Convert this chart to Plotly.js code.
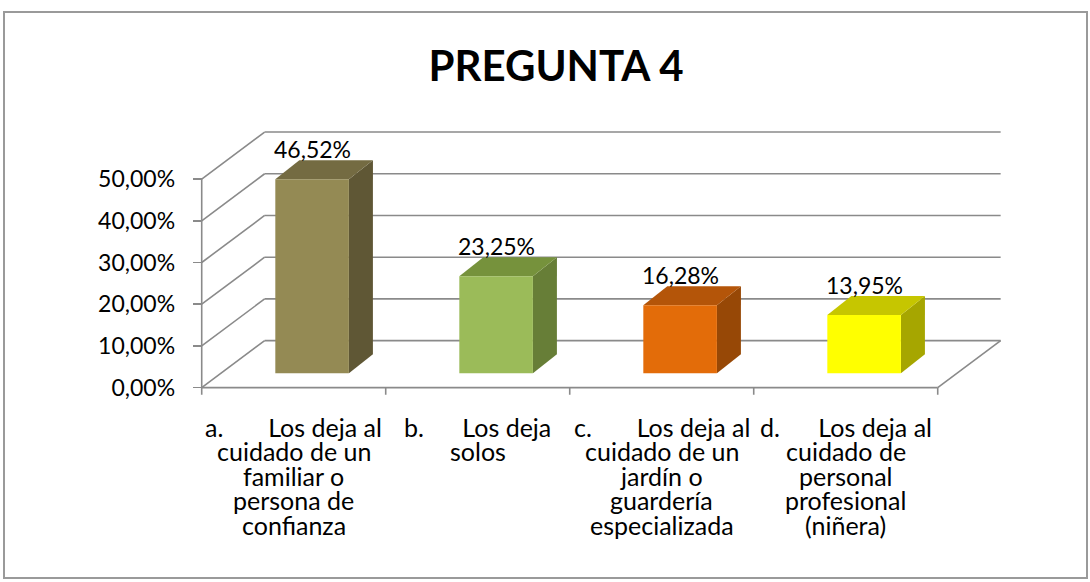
<!DOCTYPE html>
<html>
<head>
<meta charset="utf-8">
<script src="https://cdn.plot.ly/plotly-3.0.1.min.js"></script>
<style>html,body{margin:0;padding:0;background:#fff;}</style>
</head>
<body>
<div id="chart" style="width:1090px;height:582px;"></div>
<script>
// ---------- data ----------
const titleText = "PREGUNTA 4";
const categories = [
  "a.       Los deja al|cuidado de un|familiar o|persona de|confianza",
  "b.      Los deja|solos",
  "c.       Los deja al|cuidado de un|jardín o|guardería|especializada",
  "d.      Los deja al|cuidado de|personal|profesional|(niñera)"
];
const values = [46.52, 23.25, 16.28, 13.95];
const yTicks = [0, 10, 20, 30, 40, 50];
const yTickText = ["0,00%", "10,00%", "20,00%", "30,00%", "40,00%", "50,00%"];
const frontColors = ["#948A54", "#9BBB59", "#E36C09", "#FFFF00"];
const sideColors  = ["#5F5735", "#677E37", "#974806", "#A6A600"];
const topColors   = ["#746B42", "#76923C", "#B45509", "#C6C600"];

// ---------- geometry / style ----------
const W = 1090, H = 582;
const M = {l: 180, r: 60, t: 129, b: 186};
const XR = [-0.618, 4.0015];
const YR = [-2, 62];
const DX = 0.342, DY = 11.27;      // floor / wall depth
const BDX = 0.1304, BDY = 4.56;    // bar depth
const BASE = 3.45;                 // bar front base height
const BW = 0.4, SHIFT = 0.1;       // bar width & shift
const GRID = "#8a8a8a", GW = 1.6;
const FONT = "Lato, 'Open Sans', sans-serif";

const xs = categories.map((_, i) => i);
const pw = W - M.l - M.r, ph = H - M.t - M.b;
const px2paperX = p => (p - M.l) / pw;
const px2paperY = p => 1 - (p - M.t) / ph;

const shapes = [];
const line = (x0, y0, x1, y1) => shapes.push({type: "line", xref: "x", yref: "y", x0, y0, x1, y1,
  line: {color: GRID, width: GW}, layer: "below"});

const xL = -0.5, xRt = categories.length - 0.5;
// back wall gridlines and diagonals
yTicks.forEach(v => {
  line(xL + DX, v + DY, xRt + DX, v + DY);
  line(xL, v, xL + DX, v + DY);
});
// front axis and floor
line(xL, 0, xL, yTicks[yTicks.length - 1]);
line(xL, 0, xRt, 0);
line(xRt, 0, xRt + DX, DY);
// category boundary ticks
for (let i = 0; i <= categories.length; i++) line(xL + i, 0, xL + i, -1.7);

// bar sides and tops
values.forEach((v, i) => {
  const l = i + SHIFT - BW / 2, r = i + SHIFT + BW / 2;
  const b = BASE, t = BASE + v;
  shapes.push({type: "path", xref: "x", yref: "y", layer: "below", fillcolor: sideColors[i], line: {width: 0},
    path: `M${r},${b} L${r + BDX},${b + BDY} L${r + BDX},${t + BDY} L${r},${t} Z`});
  shapes.push({type: "path", xref: "x", yref: "y", layer: "below", fillcolor: topColors[i], line: {width: 0},
    path: `M${l},${t} L${l + BDX},${t + BDY} L${r + BDX},${t + BDY} L${r},${t} Z`});
});

// outer border
shapes.push({type: "rect", xref: "paper", yref: "paper",
  x0: px2paperX(4), x1: px2paperX(1087), y0: px2paperY(578), y1: px2paperY(12),
  line: {color: "#9a9a9a", width: 2}, layer: "below"});

const annotations = [];
// data labels
values.forEach((v, i) => {
  annotations.push({x: i + SHIFT, y: BASE + v + BDY, xref: "x", yref: "y", yanchor: "bottom", yshift: -5,
    text: v.toFixed(2).replace(".", ",") + "%", showarrow: false,
    font: {family: FONT, size: 23, color: "#000"}});
});
// category labels, line by line
categories.forEach((c, i) => {
  c.split("|").forEach((ln, j) => {
    annotations.push({x: i, y: 0, xref: "x", yref: "y", yanchor: "middle", xanchor: "center",
      yshift: -(39 + j * 24.5), showarrow: false, borderpad: 0,
      text: ln.replace(/ {2,}/g, m => "\u00a0".repeat(m.length)),
      font: {family: FONT, size: 25, color: "#000"}});
  });
});

const trace = {
  type: "bar", x: xs, y: values, base: values.map(() => BASE),
  width: BW, offset: SHIFT - BW / 2,
  marker: {color: frontColors, line: {width: 0}},
  hoverinfo: "skip"
};

const layout = {
  width: W, height: H, margin: M,
  paper_bgcolor: "#fff", plot_bgcolor: "rgba(0,0,0,0)",
  separators: ",.",
  showlegend: false,
  title: {text: "<b>" + titleText + "</b>", xref: "container", yref: "container",
    x: 556 / W, y: 1 - 66 / H, xanchor: "center", yanchor: "middle",
    font: {family: FONT, size: 42, color: "#000"}},
  xaxis: {range: XR, showticklabels: false, ticks: "", showgrid: false, zeroline: false, showline: false, fixedrange: true},
  yaxis: {range: YR, anchor: "free", position: px2paperX(201.7), side: "left",
    tickmode: "array", tickvals: yTicks, ticktext: yTickText,
    ticks: "outside", ticklen: 9, tickwidth: GW, tickcolor: GRID, ticklabelstandoff: 13,
    showgrid: false, zeroline: false, showline: false,
    tickfont: {family: FONT, size: 23, color: "#000"}, fixedrange: true},
  shapes, annotations
};

Plotly.newPlot("chart", [trace], layout, {displayModeBar: false, staticPlot: true});
</script>
</body>
</html>
